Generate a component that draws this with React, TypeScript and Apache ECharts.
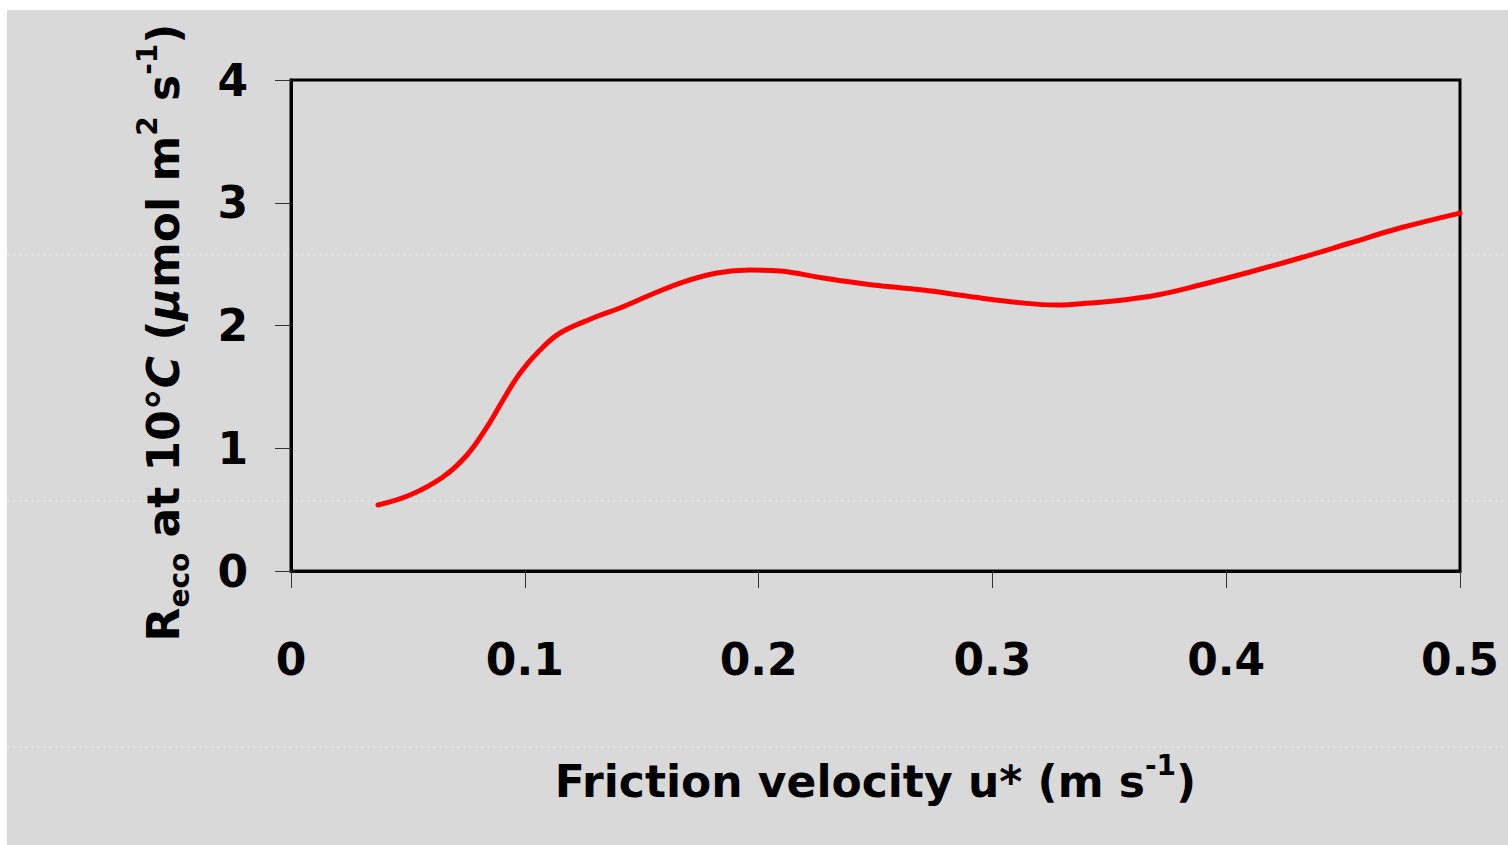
import React, { useEffect, useRef } from "react";
import * as echarts from "echarts";

// Friction velocity u* (m s-1)
const uStar = [
  0.0372, 0.0509, 0.065, 0.0753, 0.0838, 0.0907, 0.098, 0.1065, 0.1151, 0.1292,
  0.1407, 0.1536, 0.1677, 0.1822, 0.1963, 0.2092, 0.2275, 0.2489, 0.2703, 0.2917,
  0.3131, 0.3276, 0.3417, 0.3559, 0.3704, 0.3888, 0.4102, 0.4316, 0.453, 0.4743, 0.5,
];
// Reco at 10°C (µmol m-2 s-1)
const reco = [
  0.538, 0.619, 0.766, 0.945, 1.173, 1.393, 1.613, 1.8, 1.939, 2.061,
  2.143, 2.248, 2.354, 2.428, 2.452, 2.444, 2.387, 2.33, 2.289, 2.232,
  2.183, 2.167, 2.183, 2.208, 2.248, 2.33, 2.436, 2.55, 2.672, 2.794, 2.916,
];
const xTicks = [0, 0.1, 0.2, 0.3, 0.4, 0.5];
const yTicks = [0, 1, 2, 3, 4];
const seamRows = [255, 501, 747];

const FONT = "DejaVu Sans";

export default function App() {
  const ref = useRef<HTMLDivElement>(null);
  useEffect(() => {
    document.body.style.margin = "0";
    const chart = echarts.init(ref.current!, null, { renderer: "svg" });
    const base = { fontFamily: FONT, fontWeight: "bold", fontSize: 44, color: "#000", lineHeight: 60 };
    const sup = { fontFamily: FONT, fontWeight: "bold", fontSize: 28, color: "#000", lineHeight: 28, verticalAlign: "top" };
    const sub = { fontFamily: FONT, fontWeight: "bold", fontSize: 28, color: "#000", lineHeight: 28, verticalAlign: "bottom" };
    const ital = { ...base, fontStyle: "italic" };
    chart.setOption({
      animation: false,
      backgroundColor: "#ffffff",
      graphic: [
        {
          type: "rect",
          z: -10,
          silent: true,
          shape: { x: 7, y: 10, width: 1501, height: 835 },
          style: { fill: "#d9d9d9" },
        },
        ...seamRows.map((y) => ({
          type: "line",
          z: -9,
          silent: true,
          shape: { x1: 7, y1: y, x2: 1508, y2: y },
          style: { stroke: "rgba(255,255,255,0.55)", lineWidth: 1, lineDash: [3, 3] },
        })),
      ],
      grid: {
        left: 291,
        top: 80,
        width: 1169,
        height: 491,
        show: true,
        borderColor: "#000",
        borderWidth: 3,
        backgroundColor: "transparent",
      },
      xAxis: {
        type: "value",
        min: 0,
        max: 0.5,
        interval: 0.1,
        splitLine: { show: false },
        axisLine: { show: true, lineStyle: { color: "#000", width: 3 } },
        axisTick: { show: true, inside: false, length: 17, lineStyle: { color: "#333", width: 1 } },
        axisLabel: {
          margin: 66,
          fontFamily: FONT,
          fontWeight: "bold",
          fontSize: 44,
          color: "#000",
          formatter: (v: number) => {
            const t = xTicks.find((k) => Math.abs(k - v) < 1e-9);
            return t === undefined ? "" : String(t);
          },
        },
        name: "{b|Friction velocity u* (m s}{sup|-1}{b|)}",
        nameLocation: "middle",
        nameGap: 180,
        nameTextStyle: { rich: { b: base, sup } },
      },
      yAxis: {
        type: "value",
        min: 0,
        max: 4,
        interval: 1,
        splitLine: { show: false },
        axisLine: { show: true, lineStyle: { color: "#000", width: 3 } },
        axisTick: { show: true, inside: false, length: 16, lineStyle: { color: "#333", width: 1 } },
        axisLabel: {
          margin: 43,
          fontFamily: FONT,
          fontWeight: "bold",
          fontSize: 44,
          color: "#000",
          formatter: (v: number) => {
            const t = yTicks.find((k) => Math.abs(k - v) < 1e-9);
            return t === undefined ? "" : String(t);
          },
        },
        name:
          "{b|R}{sub|eco}{b| at 10°}{i|C}{b| (}{i|µ}{b|mol m}{sup|2}{b| s}{sup|-1}{b|)}",
        nameLocation: "middle",
        nameRotate: 90,
        nameGap: 98,
        nameTextStyle: { rich: { b: base, sup, sub, i: ital }, padding: [0, 14, 0, 0] },
      },
      series: [
        {
          type: "line",
          data: uStar.map((x, i) => [x, reco[i]]),
          smooth: 0.4,
          showSymbol: false,
          lineStyle: { color: "#ff0000", width: 5, cap: "round" },
          clip: false,
        },
      ],
    });
    return () => chart.dispose();
  }, []);
  return <div ref={ref} style={{ position: "fixed", left: 0, top: 0, width: 1508, height: 845 }} />;
}
